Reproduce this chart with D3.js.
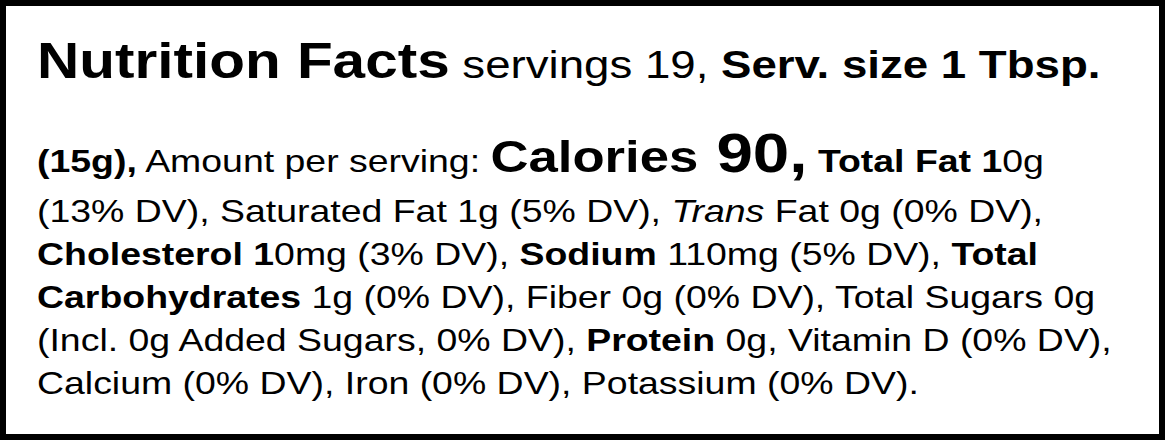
<!DOCTYPE html>
<html><head><meta charset="utf-8">
<script src="https://cdn.jsdelivr.net/npm/d3@7"></script>
<style>body{margin:0;background:#fff}svg{display:block}</style>
</head><body><svg id="svg" width="1165" height="440"></svg>
<script>
// each segment: [text, weight/style, size key]
const headerLine = [
  ['Nutrition Facts', 'b', 'title'],
  [' servings 19, ', 'n', 'head'],
  ['Serv. size 1 Tbsp.', 'b', 'head']
];
const bodyLines = [
  [['(15g),', 'b', 'body'], [' Amount per serving: ', 'n', 'body'], ['Calories', 'b', 'cal'], [' 90,', 'b', 'big'], [' Total Fat 1', 'b', 'body'], ['0g', 'n', 'body']],
  [['(13% DV), Saturated Fat 1g (5% DV), ', 'n', 'body'], ['Trans', 'i', 'body'], [' Fat 0g (0% DV),', 'n', 'body']],
  [['Cholesterol 1', 'b', 'body'], ['0mg (3% DV), ', 'n', 'body'], ['Sodium', 'b', 'body'], [' 110mg (5% DV), ', 'n', 'body'], ['Total', 'b', 'body']],
  [['Carbohydrates', 'b', 'body'], [' 1g (0% DV), Fiber 0g (0% DV), Total Sugars 0g', 'n', 'body']],
  [['(Incl. 0g Added Sugars, 0% DV), ', 'n', 'body'], ['Protein', 'b', 'body'], [' 0g, Vitamin D (0% DV),', 'n', 'body']],
  [['Calcium (0% DV), Iron (0% DV), Potassium (0% DV).', 'n', 'body']]
];
const sizes = {title: 50, head: 39, body: 32, cal: 45, big: 56};

const svg = d3.select('#svg');
svg.append('rect').attr('x', 3).attr('y', 3).attr('width', 1159).attr('height', 434)
  .attr('fill', '#fff').attr('stroke', '#000').attr('stroke-width', 6);

const lines = [headerLine].concat(bodyLines);
const y = d3.scaleOrdinal().domain(d3.range(lines.length))
  .range([78, 172, 222, 265, 308, 351, 394]);

// reference type is set wide, so stretch horizontally
const g = svg.append('g').attr('transform', 'translate(37,0) scale(1.17,1)');

const txt = g.selectAll('text.line').data(lines).join('text')
  .attr('class', 'line')
  .attr('x', 0)
  .attr('y', (d, i) => y(i))
  .style('font-family', '"Liberation Sans", Arial, sans-serif')
  .style('white-space', 'pre')
  .attr('xml:space', 'preserve');

txt.selectAll('tspan').data(d => d).join('tspan')
  .text(d => d[0])
  .style('font-size', d => sizes[d[2]] + 'px')
  .style('font-weight', d => d[1] === 'b' ? 700 : 400)
  .style('font-style', d => d[1] === 'i' ? 'italic' : 'normal');
</script></body></html>
